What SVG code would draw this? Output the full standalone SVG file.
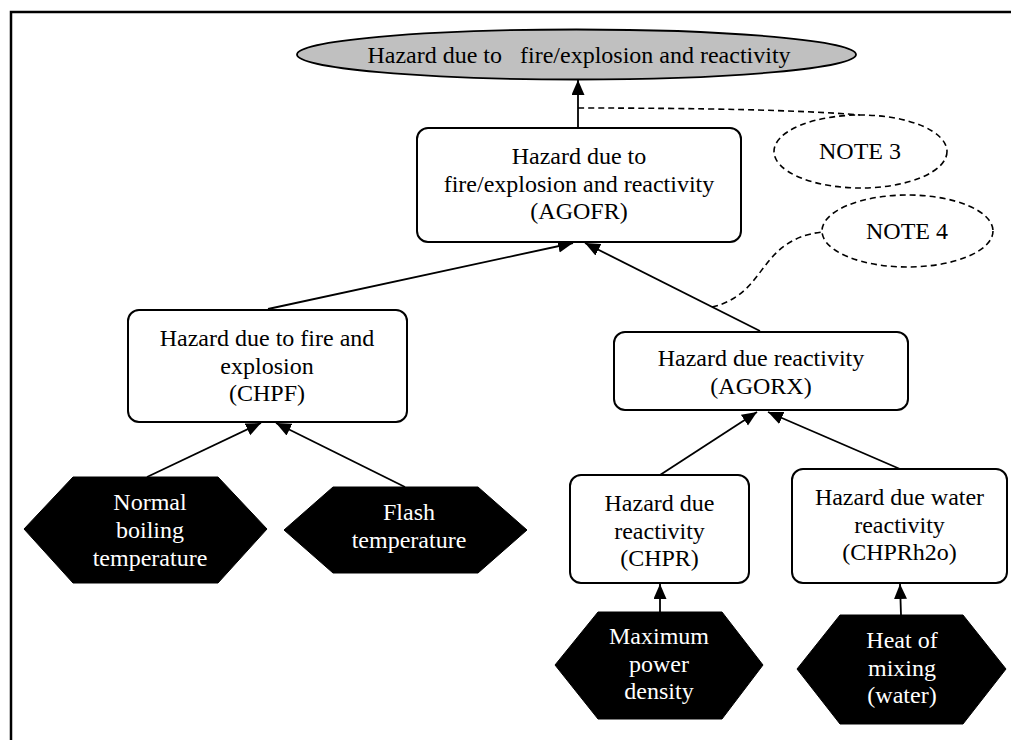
<svg xmlns="http://www.w3.org/2000/svg" width="1011" height="740" viewBox="0 0 1011 740">
  <defs>
    <style>
      .box { fill: #ffffff; stroke: #000000; stroke-width: 2; }
      .goal { fill: #c0c0c0; stroke: #000000; stroke-width: 1.8; }
      .note { fill: none; stroke: #000000; stroke-width: 1.6; stroke-dasharray: 6 4; }
      .input { fill: #000000; stroke: #000000; stroke-width: 1; }
      .edge { fill: none; stroke: #000000; stroke-width: 1.8; marker-end: url(#arrow); }
      .dash { fill: none; stroke: #000000; stroke-width: 1.6; stroke-dasharray: 6 4; }
      .frame { fill: none; stroke: #000000; stroke-width: 2.5; }
      text { font-family: "Liberation Serif", "Times New Roman", serif; font-size: 24px; text-anchor: middle; fill: #000000; }
      .light { fill: #ffffff; }
    </style>
    <marker id="arrow" markerUnits="userSpaceOnUse" markerWidth="16" markerHeight="14" refX="15" refY="6.5" orient="auto">
      <path d="M0,0 L15,6.5 L0,13 Z" fill="#000000"/>
    </marker>
  </defs>

  <!-- page frame -->
  <path class="frame" d="M11,740 L11,12 L1011,12"/>

  <!-- connectors -->
  <g id="connectors">
    <path class="edge" d="M578,128 L578,80"/>
    <path class="edge" d="M268,309 L573,243"/>
    <path class="edge" d="M760,331 L585,243"/>
    <path class="edge" d="M147,477 L261,423"/>
    <path class="edge" d="M405,487 L276,423"/>
    <path class="edge" d="M660,475 L757,412"/>
    <path class="edge" d="M900,469 L768,412"/>
    <path class="edge" d="M660,612 L660,584"/>
    <path class="edge" d="M901,615 L900,584"/>
    <path class="dash" d="M578,108 C700,108 800,110 860,115"/>
    <path class="dash" d="M712,307 C768,294 757,240 822,232"/>
  </g>

  <!-- top goal -->
  <g id="goal">
    <ellipse class="goal" cx="576.5" cy="54.5" rx="279.5" ry="25"/>
    <text x="579" y="63" xml:space="preserve">Hazard due to   fire/explosion and reactivity</text>
  </g>

  <g id="agofr">
    <rect class="box" x="417" y="128" width="324" height="114" rx="11"/>
    <text x="579" y="164">Hazard due to</text>
    <text x="579" y="191.5">fire/explosion and reactivity</text>
    <text x="579" y="219">(AGOFR)</text>
  </g>

  <g id="note3">
    <ellipse class="note" cx="860.5" cy="151.5" rx="86.5" ry="36.5"/>
    <text x="860" y="159">NOTE 3</text>
  </g>

  <g id="note4">
    <ellipse class="note" cx="907.5" cy="231" rx="85.5" ry="36"/>
    <text x="907" y="239">NOTE 4</text>
  </g>

  <g id="chpf">
    <rect class="box" x="128" y="310" width="279" height="112" rx="11"/>
    <text x="267" y="346">Hazard due to fire and</text>
    <text x="267" y="373.5">explosion</text>
    <text x="267" y="401">(CHPF)</text>
  </g>

  <g id="agorx">
    <rect class="box" x="614" y="332" width="294" height="78" rx="11"/>
    <text x="761" y="366">Hazard due reactivity</text>
    <text x="761" y="393.5">(AGORX)</text>
  </g>

  <g id="chpr">
    <rect class="box" x="570" y="475" width="179" height="108" rx="11"/>
    <text x="659.5" y="511">Hazard due</text>
    <text x="659.5" y="538.5">reactivity</text>
    <text x="659.5" y="566">(CHPR)</text>
  </g>

  <g id="chprh2o">
    <rect class="box" x="792" y="469" width="215" height="114" rx="11"/>
    <text x="899.5" y="505">Hazard due water</text>
    <text x="899.5" y="532.5">reactivity</text>
    <text x="899.5" y="560">(CHPRh2o)</text>
  </g>

  <g id="boiling">
    <polygon class="input" points="24,529 73,477 218,477 267,529 218,583 73,583"/>
    <text class="light" x="150" y="510">Normal</text>
    <text class="light" x="150" y="538">boiling</text>
    <text class="light" x="150" y="566">temperature</text>
  </g>

  <g id="flash">
    <polygon class="input" points="284,530 333,487 478,487 527,530 478,573 333,573"/>
    <text class="light" x="409" y="520">Flash</text>
    <text class="light" x="409" y="547.5">temperature</text>
  </g>

  <g id="power">
    <polygon class="input" points="555,665 598,612 722,612 763,665 722,719 598,719"/>
    <text class="light" x="659" y="644">Maximum</text>
    <text class="light" x="659" y="671.5">power</text>
    <text class="light" x="659" y="699">density</text>
  </g>

  <g id="mixing">
    <polygon class="input" points="797,669 840,615 963,615 1006,669 963,724 840,724"/>
    <text class="light" x="902" y="648">Heat of</text>
    <text class="light" x="902" y="675.5">mixing</text>
    <text class="light" x="902" y="703">(water)</text>
  </g>
</svg>
